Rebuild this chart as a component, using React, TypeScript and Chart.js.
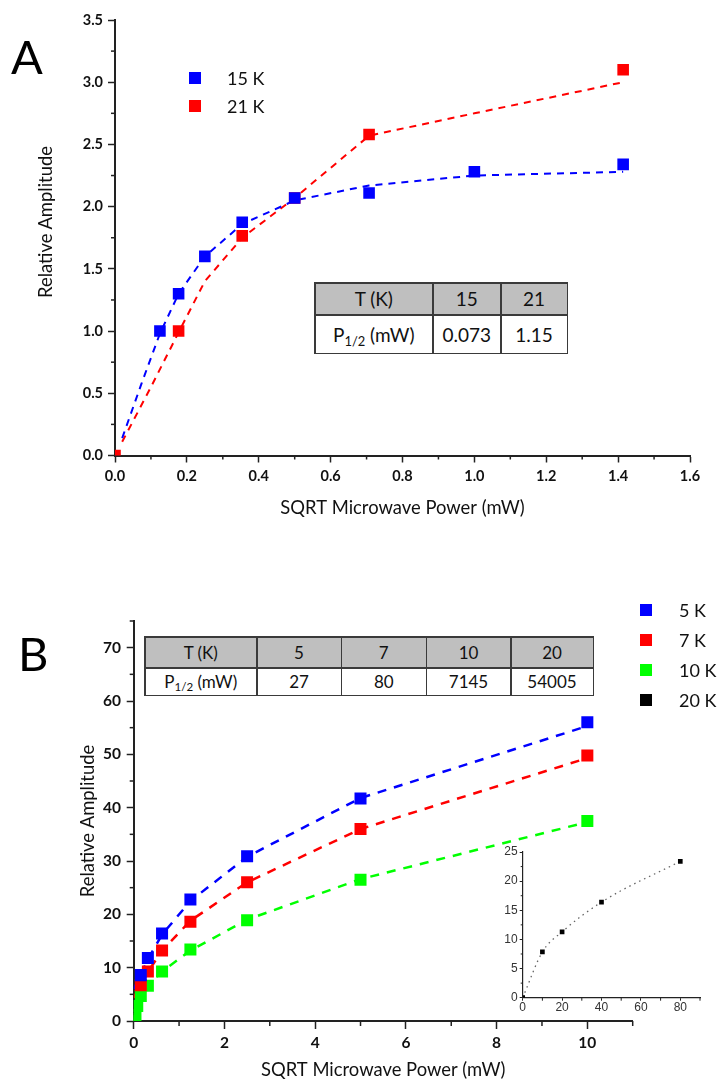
import React, { useEffect, useRef } from 'react';
import { Chart, registerables } from 'chart.js';

Chart.register(...registerables);

const FONT = 'Lato, "Open Sans", sans-serif';
const AXIS = '#222222';
const BLUE = '#0000ff';
const RED = '#ff0000';
const GREEN = '#00ff00';
const BLACK = '#000000';
const TITLE_SIZE = 18.4;

// ---------- Panel A data ----------
const aX15 = [0.125, 0.177, 0.25, 0.354, 0.5, 0.707, 1.0, 1.414];
const aY15 = [1.0, 1.3, 1.6, 1.875, 2.07, 2.11, 2.28, 2.34];
const aX21 = [0, 0.177, 0.354, 0.5, 0.707, 1.414];
const aY21 = [0, 1.0, 1.765, 2.07, 2.58, 3.1];
const aFitX15 = [0.02, 0.074, 0.125, 0.177, 0.25, 0.354, 0.5, 0.707, 1.0, 1.414];
const aFitY15 = [0.14, 0.58, 0.98, 1.3, 1.6, 1.86, 2.05, 2.17, 2.25, 2.28];
const aFitX21 = [0.02, 0.1, 0.177, 0.25, 0.354, 0.5, 0.707, 1.0, 1.414];
const aFitY21 = [0.11, 0.55, 0.99, 1.4, 1.75, 2.07, 2.57, 2.75, 3.0];
const aLegend = ['15 K', '21 K'];
const aTableHead = ['T (K)', '15', '21'];
const aTableRow = ['0.073', '1.15'];

// ---------- Panel B data ----------
const bX = [0.156, 0.3125, 0.625, 1.25, 2.5, 5, 10];
const bY5 = [8.6, 11.8, 16.4, 22.8, 30.9, 41.7, 56.0];
const bY7 = [6.7, 9.3, 13.2, 18.6, 26.0, 36.0, 49.8];
const bX10 = [0, 0.0195, 0.039, 0.078, 0.156, 0.3125, 0.625, 1.25, 2.5, 5, 10];
const bY10 = [0, 0.4, 1.1, 2.8, 4.7, 6.6, 9.3, 13.4, 18.9, 26.5, 37.5];
const bFitX = [0, 0.156, 0.3125, 0.625, 1.25, 2.5, 5, 10];
const bFitY5 = [6.0, 8.6, 11.6, 16.2, 22.5, 30.8, 41.8, 55.3];
const bFitY7 = [4.4, 6.7, 9.2, 13.2, 18.8, 26.0, 36.0, 49.3];
const bFitX10 = [0, 0.039, 0.078, 0.156, 0.3125, 0.625, 1.25, 2.5, 5, 10];
const bFitY10 = [0, 1.1, 2.8, 4.7, 6.6, 9.3, 13.2, 19.0, 26.6, 37.3];
const bLegend = ['5 K', '7 K', '10 K', '20 K'];
const bTableHead = ['T (K)', '5', '7', '10', '20'];
const bTableRow = ['27', '80', '7145', '54005'];

// ---------- Inset (20 K) ----------
const insetX = [0, 10, 20, 40, 80];
const insetY = [0, 7.85, 11.3, 16.4, 23.4];

const pts = (xs: number[], ys: number[]) => xs.map((x, i) => ({ x, y: ys[i] }));

const minorTicks = {
  id: 'minorTicks',
  afterDraw(chart: any, _args: any, opts: any) {
    const ctx = chart.ctx;
    ctx.save();
    ctx.strokeStyle = opts.color || AXIS;
    ctx.lineWidth = opts.width || 1.5;
    (opts.axes || []).forEach((a: any) => {
      const s = chart.scales[a.id];
      const n = Math.round((s.max - s.min) / a.step);
      for (let i = 0; i <= n; i++) {
        const v = s.min + i * a.step;
        const r = v / a.major;
        if (Math.abs(r - Math.round(r)) < 1e-6) continue;
        const p = s.getPixelForValue(v);
        ctx.beginPath();
        if (s.isHorizontal()) {
          ctx.moveTo(p, s.top);
          ctx.lineTo(p, s.top + a.len);
        } else {
          ctx.moveTo(s.right, p);
          ctx.lineTo(s.right - a.len, p);
        }
        ctx.stroke();
      }
    });
    ctx.restore();
  },
};

function axis(o: any) {
  return {
    type: 'linear',
    min: o.min,
    max: o.max,
    border: { display: true, color: AXIS, width: o.bw ?? 2 },
    grid: {
      display: true,
      drawOnChartArea: false,
      drawTicks: true,
      tickLength: o.tl ?? 7,
      tickColor: AXIS,
      tickWidth: o.tw ?? 1.5,
    },
    ticks: {
      stepSize: o.step,
      includeBounds: false,
      padding: o.pad ?? 5,
      color: o.color ?? '#111',
      font: o.font,
      maxRotation: 0,
      callback: o.fmt,
    },
    title: o.title
      ? { display: true, text: o.title, color: '#111', font: { family: FONT, size: TITLE_SIZE }, padding: o.titlePad }
      : { display: false },
    afterFit: (s: any) => {
      if (o.w !== undefined) s.width = o.w;
      if (o.h !== undefined) s.height = o.h;
    },
  };
}

const square = (color: string, r: number) => ({
  backgroundColor: color,
  borderColor: color,
  borderWidth: 0,
  pointStyle: 'rect',
  pointRadius: r,
  showLine: false,
  clip: 0,
});

const fit = (color: string, width: number, dash: number[]) => ({
  borderColor: color,
  backgroundColor: color,
  borderWidth: width,
  borderDash: dash,
  pointRadius: 0,
  showLine: true,
  tension: 0,
  clip: 0,
});

function configA(): any {
  const tickFont = { family: FONT, size: 14.5, weight: 'bold' };
  return {
    type: 'scatter',
    data: {
      datasets: [
        { label: aLegend[0], data: pts(aX15, aY15), ...square(BLUE, 8.2) },
        { label: aLegend[1], data: pts(aX21, aY21), ...square(RED, 8.2) },
        { label: '15 K fit', data: pts(aFitX15, aFitY15), ...fit(BLUE, 2, [7, 6]) },
        { label: '21 K fit', data: pts(aFitX21, aFitY21), ...fit(RED, 2, [7, 6]) },
      ],
    },
    options: {
      animation: false,
      responsive: false,
      devicePixelRatio: 1,
      events: [],
      layout: { padding: { left: 0, right: 30, top: 20, bottom: 0 } },
      scales: {
        x: axis({
          min: 0, max: 1.6, step: 0.2, font: tickFont, fmt: (v: number) => v.toFixed(1),
          h: 84.5, tl: 7, pad: 4.8, title: 'SQRT Microwave Power (mW)', titlePad: { top: 0, bottom: 21 },
        }),
        y: axis({
          min: 0, max: 3.5, step: 0.5, font: tickFont, fmt: (v: number) => v.toFixed(1),
          w: 115, tl: 7, pad: 5,
        }),
      },
      plugins: {
        legend: { display: false },
        tooltip: { enabled: false },
        minorTicks: {
          axes: [
            { id: 'x', step: 0.1, major: 0.2, len: 4 },
            { id: 'y', step: 0.25, major: 0.5, len: 4 },
          ],
        },
      },
    },
    plugins: [minorTicks],
  };
}

function configB(): any {
  const tickFont = { family: FONT, size: 15.5, weight: 'bold' };
  return {
    type: 'scatter',
    data: {
      datasets: [
        { label: bLegend[0], data: pts(bX, bY5), ...square(BLUE, 8.5) },
        { label: bLegend[1], data: pts(bX, bY7), ...square(RED, 8.5) },
        { label: bLegend[2], data: pts(bX10, bY10), ...square(GREEN, 8.5) },
        { label: '5 K fit', data: pts(bFitX, bFitY5), ...fit(BLUE, 2.5, [9, 8]) },
        { label: '7 K fit', data: pts(bFitX, bFitY7), ...fit(RED, 2.5, [9, 8]) },
        { label: '10 K fit', data: pts(bFitX10, bFitY10), ...fit(GREEN, 2.5, [9, 8]) },
      ],
    },
    options: {
      animation: false,
      responsive: false,
      devicePixelRatio: 1,
      events: [],
      layout: { padding: { left: 0, right: 87.3, top: 61, bottom: 0 } },
      scales: {
        x: axis({
          min: 0, max: 11, step: 2, font: tickFont, fmt: (v: number) => String(v),
          h: 65, tl: 8, pad: 4.7, title: 'SQRT Microwave Power (mW)', titlePad: { top: 0, bottom: 5 },
        }),
        y: axis({
          min: 0, max: 75, step: 10, font: tickFont, fmt: (v: number) => String(v),
          w: 133.7, tl: 7, pad: 5.7, title: 'Relative Amplitude', titlePad: { top: 77, bottom: 0 },
        }),
      },
      plugins: {
        legend: { display: false },
        tooltip: { enabled: false },
        minorTicks: {
          axes: [
            { id: 'x', step: 1, major: 2, len: 5 },
            { id: 'y', step: 5, major: 10, len: 4 },
          ],
        },
      },
    },
    plugins: [minorTicks],
  };
}

function configInset(): any {
  const tickFont = { family: '"Liberation Sans", Arial, sans-serif', size: 12 };
  return {
    type: 'scatter',
    data: {
      datasets: [
        {
          label: bLegend[3],
          data: pts(insetX, insetY),
          backgroundColor: BLACK,
          borderColor: '#666666',
          borderWidth: 1.3,
          borderDash: [1.5, 4],
          pointStyle: 'rect',
          pointRadius: 3.3,
          pointBorderWidth: 0,
          pointBackgroundColor: BLACK,
          showLine: true,
          cubicInterpolationMode: 'monotone',
          clip: 0,
        },
      ],
    },
    options: {
      animation: false,
      responsive: false,
      devicePixelRatio: 1,
      events: [],
      layout: { padding: { left: 0, right: 15, top: 12, bottom: 0 } },
      scales: {
        x: axis({
          min: 0, max: 90, step: 20, font: tickFont, fmt: (v: number) => String(v),
          h: 24.3, tl: 3, tw: 1, bw: 1.2, pad: 0, color: '#333',
        }),
        y: axis({
          min: 0, max: 25, step: 5, font: tickFont, fmt: (v: number) => String(v),
          w: 32.7, tl: 3, tw: 1, bw: 1.2, pad: 2, color: '#333',
        }),
      },
      plugins: {
        legend: { display: false },
        tooltip: { enabled: false },
        minorTicks: {
          width: 1,
          axes: [
            { id: 'x', step: 10, major: 20, len: 3 },
            { id: 'y', step: 2.5, major: 5, len: 2 },
          ],
        },
      },
    },
    plugins: [minorTicks],
  };
}

function ChartCanvas(props: { make: () => any; left: number; top: number; width: number; height: number }) {
  const ref = useRef<HTMLCanvasElement | null>(null);
  useEffect(() => {
    if (!ref.current) return;
    const chart = new Chart(ref.current, props.make());
    return () => chart.destroy();
  }, []);
  return (
    <canvas
      ref={ref}
      width={props.width}
      height={props.height}
      style={{ position: 'absolute', left: props.left, top: props.top, width: props.width, height: props.height }}
    />
  );
}

const abs = (left: number, top: number, extra: any = {}) => ({ position: 'absolute' as const, left, top, ...extra });

function LegendItem(props: { color: string; label: string; x: number; y: number; textX: number; size: number }) {
  return (
    <>
      <div style={abs(props.x - 6, props.y - 6, { width: 12, height: 12, background: props.color })} />
      <div
        style={abs(props.textX, props.y, {
          transform: 'translateY(-50%)',
          fontFamily: FONT,
          fontSize: props.size,
          color: '#111',
          whiteSpace: 'nowrap',
          lineHeight: 1,
        })}
      >
        {props.label}
      </div>
    </>
  );
}

function PHalf() {
  return (
    <span>
      P<sub style={{ fontSize: '0.68em', verticalAlign: '-0.3em', lineHeight: 0 }}>1/2</sub> (mW)
    </span>
  );
}

function Table(props: {
  left: number; top: number; cols: number[]; rows: number[]; head: string[]; row: string[]; size: number;
}) {
  const cell = (content: any, bg: string, key: string) => (
    <div
      key={key}
      style={{
        background: bg,
        display: 'flex',
        alignItems: 'center',
        justifyContent: 'center',
        fontFamily: FONT,
        fontSize: props.size,
        color: '#111',
        whiteSpace: 'nowrap',
      }}
    >
      {content}
    </div>
  );
  return (
    <div
      style={abs(props.left, props.top, {
        display: 'grid',
        gridTemplateColumns: props.cols.map((c) => c + 'px').join(' '),
        gridTemplateRows: props.rows.map((r) => r + 'px').join(' '),
        gap: 1.5,
        padding: 1.5,
        background: '#3a3a3a',
      })}
    >
      {props.head.map((h, i) => cell(h, '#bfbfbf', 'h' + i))}
      {cell(<PHalf />, '#ffffff', 'p')}
      {props.row.map((v, i) => cell(v, '#ffffff', 'r' + i))}
    </div>
  );
}

export default function App() {
  return (
    <div style={{ position: 'absolute', left: 0, top: 0, width: 720, height: 1086, background: '#fff', overflow: 'hidden' }}>
      {/* Panel A */}
      <ChartCanvas make={configA} left={0} top={0} width={720} height={540} />
      <div style={abs(11, 33, { fontFamily: FONT, fontSize: 47, lineHeight: 1, color: '#000' })}>A</div>
      <div
        style={abs(45, 222, {
          transform: 'translate(-50%, -50%) rotate(-90deg)',
          fontFamily: FONT,
          fontSize: TITLE_SIZE,
          color: '#111',
          whiteSpace: 'nowrap',
          lineHeight: 1,
        })}
      >
        Relative Amplitude
      </div>
      <LegendItem color={BLUE} label={aLegend[0]} x={195} y={78} textX={227} size={18} />
      <LegendItem color={RED} label={aLegend[1]} x={195} y={106} textX={227} size={18} />
      <Table left={314} top={282} cols={[116.5, 66.5, 65]} rows={[30.5, 37]} head={aTableHead} row={aTableRow} size={19} />

      {/* Panel B */}
      <ChartCanvas make={configB} left={0} top={560} width={720} height={526} />
      <ChartCanvas make={configInset} left={490} top={840} width={225} height={182} />
      <div style={abs(18, 630, { fontFamily: FONT, fontSize: 47, lineHeight: 1, color: '#000' })}>B</div>
      <LegendItem color={BLUE} label={bLegend[0]} x={646} y={610} textX={679} size={18} />
      <LegendItem color={RED} label={bLegend[1]} x={646} y={640} textX={679} size={18} />
      <LegendItem color={GREEN} label={bLegend[2]} x={646} y={670} textX={679} size={18} />
      <LegendItem color={BLACK} label={bLegend[3]} x={646} y={700} textX={679} size={18} />
      <Table
        left={144}
        top={636}
        cols={[110.5, 83, 83.5, 83, 81]}
        rows={[29.5, 26]}
        head={bTableHead}
        row={bTableRow}
        size={17}
      />
    </div>
  );
}
